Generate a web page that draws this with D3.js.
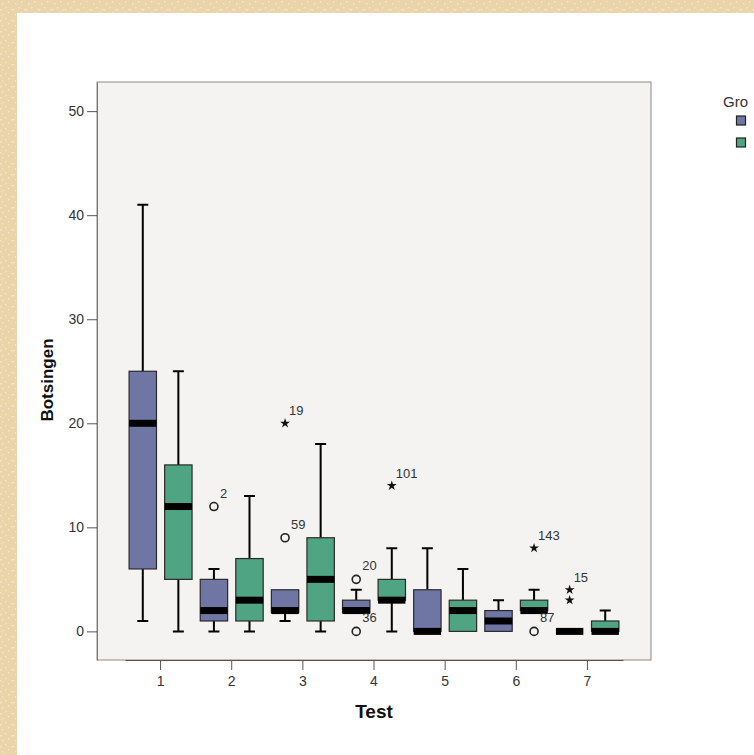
<!DOCTYPE html>
<html>
<head>
<meta charset="utf-8">
<script src="https://cdn.jsdelivr.net/npm/d3@7"></script>
<style>
  html, body { margin: 0; padding: 0; overflow: hidden; background: #fff; }
  svg { display: block; font-family: "Liberation Sans", Arial, sans-serif; }
</style>
</head>
<body>
<svg width="754" height="755"></svg>
<script>
const tests  = ["1", "2", "3", "4", "5", "6", "7"];
const groups = ["A", "B"];
const yTicks = [0, 10, 20, 30, 40, 50];

// box stats per group, one value per test
const blueLo  = [1, 0, 1, 1.8, 0, 0, 0];
const blueQ1  = [6, 1, 1.8, 1.8, 0, 0, 0];
const blueMed = [20, 2, 2, 2, 0, 1, 0];
const blueQ3  = [25, 5, 4, 3, 4, 2, 0];
const blueHi  = [41, 6, 4, 4, 8, 3, 0];

const greenLo  = [0, 0, 0, 0, 0, 2, 0];
const greenQ1  = [5, 1, 1, 3, 0, 2, 0];
const greenMed = [12, 3, 5, 3, 2, 2, 0];
const greenQ3  = [16, 7, 9, 5, 3, 3, 1];
const greenHi  = [25, 13, 18, 8, 6, 4, 2];

// outliers: test, group, value, kind, case label
const outTest  = ["2", "3", "3", "4", "4", "4", "6", "6", "7", "7"];
const outGroup = ["A", "A", "A", "A", "A", "B", "B", "B", "A", "A"];
const outValue = [12, 20, 9, 5, 0, 14, 8, 0, 4, 3];
const outKind  = ["o", "*", "o", "o", "o", "*", "*", "o", "*", "*"];
const outLabel = ["2", "19", "59", "20", "36", "101", "143", "87", "15", ""];

const colors = { A: "#6f76a4", B: "#4fa483" };

const svg = d3.select("svg");

// page background: speckled beige frame on left and top
const pat = svg.append("defs").append("pattern")
    .attr("id", "paper").attr("patternUnits", "userSpaceOnUse")
    .attr("width", 13).attr("height", 11);
pat.append("rect").attr("width", 13).attr("height", 11).attr("fill", "#ead5aa");
[[2, 3], [8, 1], [5, 7], [11, 9], [0, 9]].forEach(([px, py]) =>
  pat.append("rect").attr("x", px).attr("y", py).attr("width", 1.5).attr("height", 1.5).attr("fill", "#f4e6c8"));
svg.append("rect").attr("width", 754).attr("height", 755).attr("fill", "url(#paper)");
svg.append("rect").attr("x", 17).attr("y", 13).attr("width", 754).attr("height", 755).attr("fill", "#fff");

const plot = { left: 97, right: 651, top: 82, bottom: 660 };

const x = d3.scaleBand().domain(tests).range([125, 623]);
const sub = d3.scaleBand().domain(groups).range([0, x.bandwidth()]);
const y = d3.scaleLinear().domain([-2.75, 52.8]).range([plot.bottom, plot.top]);

svg.append("rect")
    .attr("x", plot.left).attr("y", plot.top)
    .attr("width", plot.right - plot.left).attr("height", plot.bottom - plot.top)
    .attr("fill", "#f4f3f1")
    .attr("stroke", "#8c8a88");

// axes
const yAxis = svg.append("g")
    .attr("transform", `translate(${plot.left},0)`)
    .call(d3.axisLeft(y).tickValues(yTicks).tickSize(10).tickSizeOuter(0).tickPadding(3));
yAxis.select(".domain").attr("stroke", "#777");
yAxis.selectAll(".tick line").attr("stroke", "#555");
yAxis.selectAll("text").attr("font-size", 14).attr("fill", "#333").attr("font-family", "Liberation Sans, Arial");

const xAxis = svg.append("g")
    .attr("transform", `translate(0,${plot.bottom})`)
    .call(d3.axisBottom(x).tickSize(10).tickPadding(6).tickSizeOuter(0));
xAxis.select(".domain").attr("stroke", "#555");
xAxis.selectAll(".tick line").attr("stroke", "#555");
xAxis.selectAll("text").attr("font-size", 14).attr("fill", "#333").attr("font-family", "Liberation Sans, Arial");

svg.append("text")
    .attr("x", 374).attr("y", 718)
    .attr("text-anchor", "middle")
    .attr("font-weight", "bold").attr("font-size", 19)
    .attr("fill", "#111")
    .text("Test");

svg.append("text")
    .attr("transform", "translate(53,380) rotate(-90)")
    .attr("text-anchor", "middle")
    .attr("font-weight", "bold").attr("font-size", 17)
    .attr("fill", "#111")
    .text("Botsingen");

// boxes
const boxes = [];
tests.forEach((t, i) => {
  boxes.push({ test: t, group: "A", lo: blueLo[i], q1: blueQ1[i], med: blueMed[i], q3: blueQ3[i], hi: blueHi[i] });
  boxes.push({ test: t, group: "B", lo: greenLo[i], q1: greenQ1[i], med: greenMed[i], q3: greenQ3[i], hi: greenHi[i] });
});

const boxW = sub.bandwidth() * 0.77;
const capW = 11;
const cx = d => x(d.test) + sub(d.group) + sub.bandwidth() / 2;

const g = svg.append("g").selectAll("g").data(boxes).join("g");

// whiskers
g.append("path")
    .attr("stroke", "#000")
    .attr("stroke-width", 2)
    .attr("fill", "none")
    .attr("d", d => {
      let p = "";
      if (d.hi > d.q3) p += `M${cx(d)},${y(d.q3)}V${y(d.hi)}M${cx(d) - capW / 2},${y(d.hi)}h${capW}`;
      if (d.lo < d.q1) p += `M${cx(d)},${y(d.q1)}V${y(d.lo)}M${cx(d) - capW / 2},${y(d.lo)}h${capW}`;
      return p || "M0,0";
    });

// box
g.filter(d => d.q3 > d.q1).append("rect")
    .attr("x", d => cx(d) - boxW / 2)
    .attr("width", boxW)
    .attr("y", d => y(d.q3))
    .attr("height", d => y(d.q1) - y(d.q3))
    .attr("fill", d => colors[d.group])
    .attr("stroke", "#2a2a2a")
    .attr("stroke-width", 1.2);

// median
g.append("rect")
    .attr("x", d => cx(d) - boxW / 2)
    .attr("width", boxW)
    .attr("y", d => y(d.med) - 3.5)
    .attr("height", 7)
    .attr("fill", "#000");

// outliers
const outliers = outTest.map((t, i) => ({ test: t, group: outGroup[i], value: outValue[i], kind: outKind[i], label: outLabel[i] }));
const og = svg.append("g").selectAll("g").data(outliers).join("g")
    .attr("transform", d => `translate(${cx(d)},${y(d.value)})`);

og.filter(d => d.kind === "o").append("circle")
    .attr("r", 4)
    .attr("fill", "none")
    .attr("stroke", "#222")
    .attr("stroke-width", 1.6);

og.filter(d => d.kind === "*").append("path")
    .attr("d", d3.symbol(d3.symbolStar, 30))
    .attr("fill", "#111");

og.append("text")
    .attr("x", d => d.kind === "o" ? 6 : 4)
    .attr("y", d => d.kind === "o" ? -9 : -8)
    .attr("font-size", 13)
    .attr("fill", "#333")
    .text(d => d.label);

// legend title, as far as it shows before the page edge
svg.append("text")
    .attr("x", 723).attr("y", 107)
    .attr("font-size", 15)
    .attr("fill", "#333")
    .text("Gro");

svg.append("g").selectAll("rect").data(groups).join("rect")
    .attr("x", 736.5)
    .attr("y", (d, i) => 116 + i * 22)
    .attr("width", 9).attr("height", 9)
    .attr("fill", d => colors[d])
    .attr("stroke", "#222")
    .attr("stroke-width", 1.2);
</script>
</body>
</html>
